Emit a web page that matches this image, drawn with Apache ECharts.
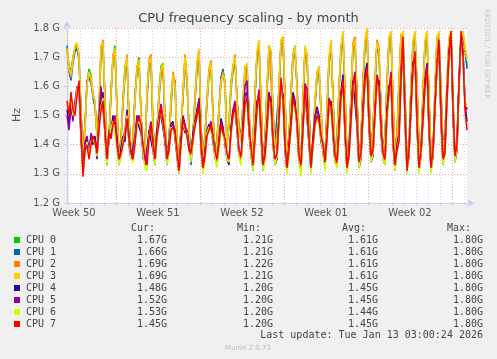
<!DOCTYPE html>
<html>
<head>
<meta charset="utf-8">
<script src="https://cdn.jsdelivr.net/npm/echarts@6/dist/echarts.min.js"></script>
<style>
html,body{margin:0;padding:0;background:#f0f0f0;}
#chart{width:497px;height:359px;}
</style>
</head>
<body>
<div id="chart"></div>
<script>
// Time axis in days, 0 = Monday 8 Dec 2025 00:00 (start of Week 50); samples every 4 hours
const T0 = 2 + 11 / 12;
const STEP = 1 / 6;
const weekLabels = ['Week 50', 'Week 51', 'Week 52', 'Week 01', 'Week 02'];
const weekCenters = [3.5, 10.5, 17.5, 24.5, 31.5];
const weekStarts = [7, 14, 21, 28, 35];
const names = ['CPU 0', 'CPU 1', 'CPU 2', 'CPU 3', 'CPU 4', 'CPU 5', 'CPU 6', 'CPU 7'];
const colors = ['#00cc00', '#0066b3', '#ff8000', '#ffcc00', '#330099', '#990099', '#ccff00', '#ff0000'];
const curVals = ['1.67G', '1.66G', '1.69G', '1.69G', '1.48G', '1.52G', '1.53G', '1.45G'];
const minVals = ['1.21G', '1.21G', '1.22G', '1.21G', '1.20G', '1.20G', '1.20G', '1.20G'];
const avgVals = ['1.61G', '1.61G', '1.61G', '1.61G', '1.45G', '1.45G', '1.44G', '1.45G'];
const maxVals = ['1.80G', '1.80G', '1.80G', '1.80G', '1.80G', '1.80G', '1.80G', '1.80G'];

// values in GHz
const cpu0 = [
1.73,1.67,1.65,1.70,1.73,1.74, 1.70,1.52,1.37,1.46,1.61,1.66, 1.64,1.56,1.54,1.43,1.51,1.73,
1.74,1.55,1.37,1.43,1.57,1.70, 1.74,1.52,1.35,1.41,1.56,1.67, 1.69,1.48,1.37,1.42,1.57,1.66,
1.70,1.50,1.37,1.39,1.57,1.68, 1.69,1.46,1.38,1.45,1.58,1.67, 1.68,1.49,1.35,1.41,1.56,1.64,
1.61,1.42,1.35,1.45,1.57,1.70, 1.62,1.46,1.35,1.43,1.55,1.68, 1.72,1.46,1.35,1.43,1.56,1.65,
1.68,1.50,1.37,1.41,1.52,1.63, 1.65,1.62,1.40,1.48,1.61,1.67, 1.70,1.55,1.46,1.42,1.55,1.66,
1.67,1.50,1.36,1.41,1.58,1.71, 1.75,1.55,1.34,1.41,1.60,1.74, 1.72,1.50,1.41,1.40,1.60,1.75,
1.77,1.56,1.35,1.42,1.58,1.71, 1.74,1.60,1.41,1.33,1.55,1.73, 1.70,1.51,1.35,1.41,1.55,1.64,
1.67,1.52,1.37,1.35,1.52,1.69, 1.75,1.56,1.35,1.41,1.60,1.73, 1.78,1.58,1.35,1.38,1.58,1.74,
1.76,1.56,1.34,1.41,1.62,1.75, 1.79,1.56,1.38,1.45,1.62,1.75, 1.72,1.52,1.37,1.42,1.62,1.76,
1.78,1.55,1.37,1.43,1.62,1.77, 1.78,1.56,1.34,1.39,1.60,1.75, 1.78,1.60,1.40,1.37,1.58,1.75,
1.78,1.56,1.35,1.37,1.60,1.76, 1.78,1.58,1.38,1.43,1.62,1.76, 1.78,1.56,1.35,1.41,1.62,1.76,
1.78,1.73,1.67];
const cpu1 = [
1.74,1.65,1.62,1.68,1.72,1.73, 1.69,1.51,1.38,1.47,1.62,1.63, 1.61,1.56,1.53,1.44,1.50,1.72,
1.74,1.56,1.38,1.41,1.59,1.69, 1.72,1.51,1.36,1.42,1.54,1.64, 1.69,1.49,1.37,1.41,1.57,1.65,
1.67,1.52,1.35,1.40,1.56,1.67, 1.69,1.45,1.38,1.46,1.56,1.64, 1.66,1.47,1.36,1.42,1.53,1.63,
1.62,1.41,1.35,1.46,1.56,1.69, 1.61,1.46,1.33,1.44,1.55,1.66, 1.71,1.45,1.36,1.44,1.54,1.64,
1.67,1.51,1.37,1.42,1.51,1.63, 1.66,1.60,1.41,1.46,1.59,1.65, 1.69,1.56,1.46,1.43,1.53,1.64,
1.66,1.52,1.37,1.42,1.56,1.70, 1.74,1.54,1.35,1.42,1.58,1.72, 1.71,1.51,1.41,1.41,1.59,1.74,
1.75,1.55,1.36,1.43,1.57,1.69, 1.72,1.61,1.42,1.34,1.54,1.72, 1.69,1.52,1.36,1.42,1.53,1.63,
1.65,1.51,1.38,1.36,1.51,1.68, 1.74,1.57,1.36,1.42,1.58,1.72, 1.77,1.57,1.36,1.39,1.56,1.73,
1.75,1.57,1.35,1.42,1.60,1.74, 1.78,1.55,1.39,1.46,1.61,1.74, 1.71,1.53,1.38,1.43,1.60,1.75,
1.77,1.54,1.37,1.44,1.60,1.76, 1.77,1.57,1.35,1.40,1.59,1.74, 1.77,1.59,1.41,1.38,1.57,1.74,
1.77,1.55,1.36,1.38,1.58,1.75, 1.77,1.59,1.39,1.44,1.60,1.75, 1.77,1.55,1.36,1.42,1.60,1.75,
1.77,1.72,1.66];
const cpu2 = [
1.72,1.67,1.63,1.70,1.73,1.74, 1.71,1.49,1.37,1.45,1.61,1.64, 1.62,1.58,1.54,1.43,1.53,1.73,
1.76,1.54,1.37,1.43,1.57,1.71, 1.72,1.53,1.35,1.41,1.56,1.65, 1.71,1.47,1.35,1.43,1.55,1.67,
1.68,1.51,1.37,1.39,1.57,1.69, 1.71,1.47,1.36,1.44,1.58,1.65, 1.67,1.49,1.35,1.41,1.54,1.65,
1.61,1.43,1.33,1.45,1.57,1.71, 1.63,1.44,1.35,1.43,1.57,1.67, 1.72,1.47,1.35,1.42,1.56,1.66,
1.69,1.49,1.35,1.41,1.53,1.61, 1.65,1.61,1.40,1.47,1.61,1.66, 1.71,1.54,1.44,1.42,1.54,1.67,
1.67,1.51,1.36,1.41,1.57,1.71, 1.75,1.56,1.34,1.41,1.59,1.73, 1.73,1.49,1.39,1.40,1.61,1.75,
1.76,1.57,1.35,1.41,1.59,1.71, 1.73,1.59,1.41,1.33,1.56,1.73, 1.71,1.51,1.35,1.41,1.54,1.65,
1.66,1.53,1.37,1.35,1.53,1.69, 1.75,1.56,1.35,1.41,1.59,1.73, 1.78,1.59,1.35,1.38,1.57,1.75,
1.77,1.55,1.34,1.41,1.61,1.75, 1.79,1.57,1.37,1.44,1.63,1.76, 1.73,1.51,1.37,1.41,1.61,1.76,
1.78,1.56,1.35,1.43,1.61,1.78, 1.78,1.55,1.34,1.39,1.61,1.75, 1.78,1.61,1.39,1.37,1.59,1.75,
1.78,1.57,1.35,1.37,1.59,1.77, 1.78,1.57,1.37,1.43,1.61,1.76, 1.78,1.57,1.35,1.41,1.61,1.76,
1.78,1.73,1.69];
const cpu3 = [
1.73,1.66,1.64,1.69,1.74,1.75, 1.70,1.50,1.36,1.46,1.60,1.65, 1.63,1.57,1.55,1.42,1.52,1.74,
1.75,1.55,1.36,1.42,1.58,1.70, 1.73,1.52,1.34,1.40,1.55,1.66, 1.70,1.48,1.36,1.42,1.56,1.66,
1.69,1.50,1.36,1.38,1.58,1.68, 1.70,1.46,1.37,1.45,1.57,1.66, 1.68,1.48,1.34,1.40,1.55,1.64,
1.60,1.42,1.34,1.44,1.58,1.70, 1.62,1.45,1.34,1.42,1.56,1.68, 1.73,1.46,1.34,1.43,1.55,1.65,
1.68,1.50,1.36,1.40,1.52,1.62, 1.64,1.62,1.39,1.48,1.60,1.67, 1.70,1.55,1.45,1.41,1.55,1.66,
1.68,1.50,1.35,1.40,1.58,1.72, 1.76,1.55,1.33,1.40,1.60,1.74, 1.72,1.50,1.40,1.39,1.60,1.76,
1.77,1.56,1.34,1.42,1.58,1.70, 1.74,1.60,1.40,1.32,1.55,1.74, 1.70,1.50,1.34,1.40,1.55,1.64,
1.67,1.52,1.36,1.34,1.52,1.70, 1.76,1.55,1.34,1.40,1.60,1.74, 1.79,1.58,1.34,1.37,1.58,1.74,
1.76,1.56,1.33,1.40,1.62,1.76, 1.80,1.56,1.38,1.45,1.62,1.75, 1.72,1.52,1.36,1.42,1.62,1.77,
1.79,1.55,1.36,1.42,1.62,1.77, 1.79,1.56,1.33,1.38,1.60,1.76, 1.79,1.60,1.40,1.36,1.58,1.76,
1.79,1.56,1.34,1.36,1.60,1.76, 1.79,1.58,1.38,1.42,1.62,1.77, 1.79,1.56,1.34,1.40,1.62,1.77,
1.79,1.74,1.69];
const cpu4 = [
1.52,1.47,1.55,1.50,1.53,1.58, 1.60,1.42,1.32,1.40,1.42,1.37, 1.42,1.40,1.43,1.35,1.47,1.55,
1.58,1.43,1.33,1.42,1.45,1.50, 1.47,1.42,1.33,1.39,1.43,1.41, 1.52,1.40,1.35,1.37,1.42,1.50,
1.46,1.44,1.38,1.33,1.35,1.45, 1.45,1.38,1.33,1.45,1.49,1.50, 1.50,1.41,1.33,1.40,1.47,1.48,
1.42,1.36,1.30,1.42,1.47,1.44, 1.45,1.40,1.35,1.44,1.48,1.52, 1.55,1.38,1.31,1.38,1.45,1.47,
1.45,1.41,1.36,1.33,1.42,1.49, 1.46,1.40,1.35,1.33,1.46,1.52, 1.51,1.45,1.36,1.34,1.46,1.57,
1.58,1.44,1.37,1.31,1.44,1.55, 1.56,1.43,1.31,1.38,1.47,1.58, 1.53,1.40,1.33,1.35,1.50,1.60,
1.57,1.38,1.31,1.40,1.48,1.58, 1.55,1.46,1.34,1.31,1.47,1.58, 1.58,1.40,1.31,1.42,1.49,1.53,
1.50,1.41,1.38,1.32,1.44,1.53, 1.55,1.43,1.34,1.33,1.46,1.58, 1.64,1.43,1.31,1.38,1.50,1.62,
1.62,1.46,1.32,1.35,1.52,1.64, 1.68,1.46,1.34,1.36,1.52,1.61, 1.62,1.44,1.35,1.33,1.52,1.60,
1.62,1.40,1.31,1.40,1.44,1.64, 1.75,1.48,1.32,1.36,1.54,1.68, 1.70,1.46,1.31,1.36,1.50,1.62,
1.68,1.44,1.31,1.36,1.54,1.66, 1.74,1.48,1.33,1.39,1.57,1.72, 1.78,1.50,1.34,1.38,1.62,1.77,
1.72,1.54,1.48];
const cpu5 = [
1.50,1.45,1.53,1.48,1.55,1.60, 1.59,1.43,1.31,1.41,1.43,1.38, 1.44,1.41,1.42,1.38,1.50,1.60,
1.60,1.44,1.34,1.45,1.44,1.48, 1.50,1.41,1.34,1.36,1.42,1.45, 1.51,1.43,1.36,1.36,1.43,1.49,
1.50,1.45,1.39,1.34,1.34,1.44, 1.48,1.41,1.34,1.44,1.50,1.54, 1.49,1.42,1.34,1.39,1.46,1.47,
1.45,1.37,1.31,1.41,1.50,1.47, 1.44,1.39,1.36,1.43,1.47,1.51, 1.56,1.41,1.32,1.37,1.44,1.46,
1.48,1.42,1.37,1.34,1.41,1.48, 1.45,1.41,1.36,1.34,1.45,1.52, 1.55,1.46,1.37,1.35,1.48,1.60,
1.62,1.45,1.38,1.32,1.43,1.54, 1.59,1.44,1.32,1.37,1.46,1.57, 1.56,1.41,1.34,1.36,1.49,1.62,
1.56,1.39,1.32,1.39,1.47,1.57, 1.54,1.47,1.35,1.32,1.46,1.61, 1.59,1.41,1.32,1.41,1.50,1.52,
1.49,1.42,1.39,1.33,1.43,1.56, 1.54,1.44,1.35,1.33,1.45,1.57, 1.63,1.44,1.32,1.37,1.49,1.61,
1.65,1.47,1.33,1.36,1.51,1.63, 1.67,1.47,1.35,1.37,1.51,1.64, 1.61,1.45,1.36,1.34,1.51,1.59,
1.65,1.41,1.32,1.39,1.43,1.63, 1.76,1.49,1.32,1.37,1.53,1.67, 1.71,1.47,1.32,1.37,1.49,1.61,
1.67,1.45,1.32,1.37,1.53,1.67, 1.75,1.49,1.34,1.38,1.56,1.71, 1.78,1.51,1.35,1.39,1.61,1.78,
1.71,1.55,1.52];
const cpu6 = [
1.54,1.52,1.56,1.50,1.52,1.59, 1.61,1.44,1.30,1.37,1.41,1.36, 1.41,1.42,1.40,1.36,1.46,1.53,
1.56,1.44,1.33,1.43,1.43,1.48, 1.48,1.39,1.33,1.36,1.41,1.44, 1.50,1.41,1.35,1.34,1.41,1.47,
1.48,1.46,1.38,1.32,1.31,1.43, 1.46,1.39,1.33,1.42,1.48,1.52, 1.47,1.42,1.33,1.37,1.46,1.45,
1.43,1.37,1.30,1.39,1.48,1.45, 1.44,1.37,1.35,1.41,1.47,1.49, 1.52,1.39,1.30,1.35,1.44,1.46,
1.46,1.42,1.36,1.32,1.39,1.46, 1.43,1.41,1.35,1.34,1.43,1.49, 1.52,1.46,1.36,1.33,1.43,1.53,
1.55,1.45,1.37,1.31,1.41,1.51, 1.57,1.44,1.31,1.35,1.44,1.55, 1.54,1.41,1.33,1.36,1.47,1.62,
1.54,1.39,1.30,1.37,1.45,1.55, 1.52,1.47,1.34,1.29,1.44,1.59, 1.59,1.41,1.30,1.39,1.46,1.49,
1.47,1.42,1.38,1.31,1.41,1.54, 1.52,1.44,1.34,1.32,1.43,1.55, 1.61,1.44,1.30,1.35,1.47,1.59,
1.63,1.47,1.32,1.36,1.49,1.61, 1.65,1.47,1.34,1.37,1.49,1.62, 1.59,1.45,1.35,1.33,1.49,1.57,
1.63,1.41,1.31,1.37,1.42,1.61, 1.76,1.49,1.30,1.37,1.51,1.65, 1.71,1.47,1.30,1.37,1.47,1.59,
1.65,1.45,1.30,1.37,1.51,1.67, 1.75,1.49,1.33,1.36,1.54,1.69, 1.78,1.51,1.34,1.39,1.59,1.78,
1.69,1.54,1.53];
const cpu7 = [
1.55,1.50,1.58,1.52,1.50,1.57, 1.62,1.45,1.29,1.38,1.40,1.35, 1.40,1.43,1.41,1.37,1.45,1.52,
1.55,1.45,1.35,1.44,1.42,1.47, 1.49,1.40,1.35,1.37,1.40,1.43, 1.49,1.42,1.37,1.35,1.40,1.48,
1.49,1.47,1.40,1.35,1.33,1.42, 1.47,1.40,1.35,1.43,1.47,1.53, 1.48,1.43,1.35,1.38,1.45,1.46,
1.44,1.38,1.31,1.40,1.49,1.46, 1.43,1.38,1.37,1.42,1.46,1.50, 1.53,1.40,1.32,1.36,1.43,1.45,
1.47,1.43,1.38,1.35,1.40,1.47, 1.44,1.42,1.37,1.35,1.44,1.50, 1.53,1.47,1.38,1.36,1.44,1.54,
1.56,1.46,1.39,1.33,1.42,1.52, 1.58,1.45,1.33,1.36,1.45,1.56, 1.55,1.42,1.35,1.37,1.48,1.63,
1.55,1.40,1.32,1.38,1.46,1.56, 1.53,1.48,1.36,1.33,1.45,1.60, 1.60,1.42,1.32,1.40,1.47,1.50,
1.48,1.43,1.40,1.34,1.42,1.55, 1.53,1.45,1.36,1.34,1.44,1.56, 1.62,1.45,1.32,1.36,1.48,1.60,
1.64,1.48,1.34,1.37,1.50,1.62, 1.66,1.48,1.36,1.38,1.50,1.63, 1.60,1.46,1.37,1.35,1.50,1.58,
1.64,1.42,1.33,1.38,1.41,1.62, 1.77,1.50,1.31,1.38,1.52,1.66, 1.72,1.48,1.32,1.38,1.48,1.60,
1.66,1.46,1.32,1.38,1.52,1.68, 1.76,1.50,1.35,1.37,1.55,1.70, 1.79,1.52,1.36,1.40,1.60,1.79,
1.70,1.52,1.45];

const cpuData = [cpu0, cpu1, cpu2, cpu3, cpu4, cpu5, cpu6, cpu7];
const TMAX = T0 + (cpu3.length - 1) * STEP;

const chart = echarts.init(document.getElementById('chart'), null, { renderer: 'canvas' });

const days = [];
for (let d = Math.ceil(T0); d <= TMAX; d++) days.push(d);

const gridLines = days.map(d => ({
  xAxis: d,
  lineStyle: { color: weekStarts.indexOf(d) >= 0 ? '#f0a0a0' : '#d4d4d4', type: [1, 2], width: 1 }
}));

const series = [{
  type: 'line',
  data: [],
  silent: true,
  z: 1,
  markLine: { silent: true, symbol: 'none', label: { show: false }, animation: false, data: gridLines }
}];
cpuData.forEach((arr, k) => {
  series.push({
    name: names[k],
    type: 'line',
    z: 2 + k,
    showSymbol: false,
    symbol: 'none',
    smooth: false,
    lineStyle: { color: colors[k], width: 1.5 },
    itemStyle: { color: colors[k] },
    data: arr.map((v, i) => [T0 + i * STEP, v])
  });
});

const mono = '"DejaVu Sans Mono", monospace';
const txt = '#444';
const graphics = [];
graphics.push({ type: 'text', left: 'center', top: 12, style: { text: 'CPU frequency scaling - by month', font: '13px "DejaVu Sans"', fill: '#444' } });
graphics.push({ type: 'text', x: 17, y: 115, rotation: Math.PI / 2, style: { text: 'Hz', font: '11px "DejaVu Sans"', fill: '#555', align: 'center', verticalAlign: 'middle' } });
graphics.push({ type: 'text', x: 487, y: 54, rotation: -Math.PI / 2, style: { text: 'RRDTOOL / TOBI OETIKER', font: '7px "DejaVu Sans"', fill: '#c8c8c8', align: 'center', verticalAlign: 'middle' } });
const headY = 228;
[['Cur:', 131], ['Min:', 237], ['Avg:', 342], ['Max:', 447]].forEach(h => {
  graphics.push({ type: 'text', x: h[1], y: headY, style: { text: h[0], font: '10px ' + mono, fill: txt, align: 'left', verticalAlign: 'middle' } });
});
names.forEach((n, k) => {
  const y = 240 + k * 12;
  graphics.push({ type: 'rect', shape: { x: 14, y: y - 3, width: 6, height: 6 }, style: { fill: colors[k] } });
  graphics.push({ type: 'text', x: 26, y: y, style: { text: n, font: '10px ' + mono, fill: txt, align: 'left', verticalAlign: 'middle' } });
  [[curVals, 167], [minVals, 273], [avgVals, 378], [maxVals, 483]].forEach(c => {
    graphics.push({ type: 'text', x: c[1], y: y, style: { text: c[0][k], font: '10px ' + mono, fill: txt, align: 'right', verticalAlign: 'middle' } });
  });
});
graphics.push({ type: 'text', x: 483, y: 335, style: { text: 'Last update: Tue Jan 13 03:00:24 2026', font: '10px ' + mono, fill: txt, align: 'right', verticalAlign: 'middle' } });
graphics.push({ type: 'text', x: 248, y: 348, style: { text: 'Munin 2.0.73', font: '7px "DejaVu Sans"', fill: '#bbbbbb', align: 'center', verticalAlign: 'middle' } });

chart.setOption({
  animation: false,
  backgroundColor: '#f0f0f0',
  grid: { left: 67, right: 30, top: 28, bottom: 156, show: true, backgroundColor: '#ffffff', borderWidth: 0, containLabel: false },
  xAxis: {
    type: 'value',
    min: T0,
    max: TMAX,
    axisLine: { show: true, lineStyle: { color: '#c8ccf0', width: 1 }, symbol: ['none', 'arrow'], symbolSize: [6, 7], symbolOffset: [0, 7] },
    axisTick: { show: true, customValues: days, length: 2, lineStyle: { color: '#c8ccf0' } },
    axisLabel: { show: true, customValues: weekCenters, margin: 5, color: '#555', fontFamily: 'DejaVu Sans', fontSize: 10,
      formatter: v => weekLabels[Math.round((v - 3.5) / 7)] },
    splitLine: { show: false }
  },
  yAxis: {
    type: 'value',
    min: 1.2,
    max: 1.8,
    interval: 0.1,
    axisLine: { show: true, lineStyle: { color: '#c8ccf0', width: 1 }, symbol: ['none', 'arrow'], symbolSize: [6, 7], symbolOffset: [0, 7] },
    axisTick: { show: true, length: 3, lineStyle: { color: '#c8ccf0' } },
    axisLabel: { margin: 7, color: '#555', fontFamily: 'DejaVu Sans', fontSize: 10, formatter: v => v.toFixed(1) + ' G' },
    splitLine: { show: true, lineStyle: { color: '#f0a0a0', type: [1, 2], width: 1 } }
  },
  graphic: graphics,
  series: series
});
</script>
</body>
</html>
